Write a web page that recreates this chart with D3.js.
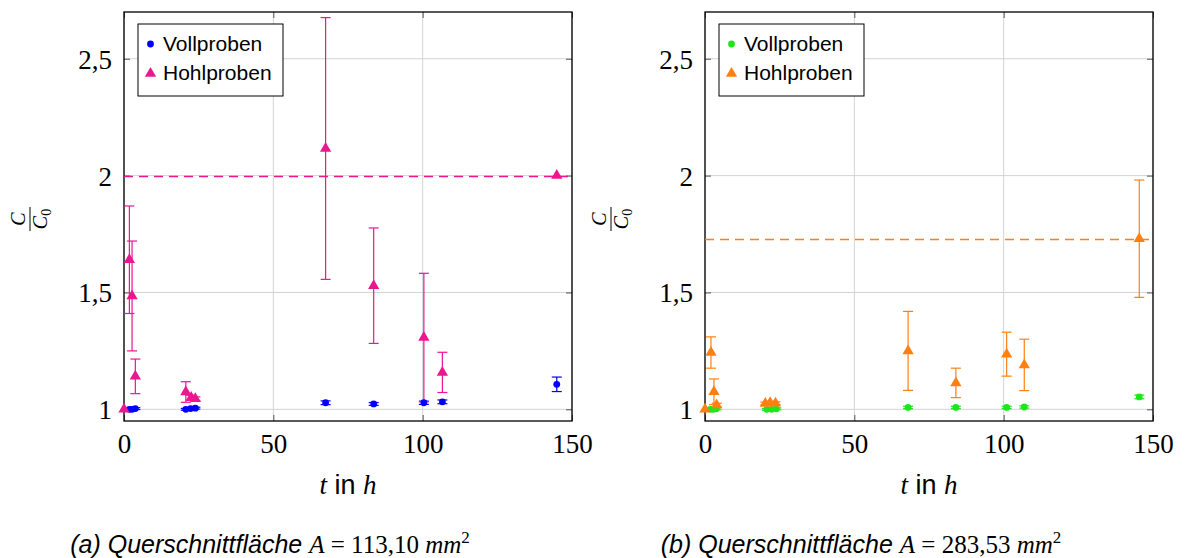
<!DOCTYPE html>
<html>
<head>
<meta charset="utf-8">
<script src="https://cdn.jsdelivr.net/npm/d3@7"></script>
<style>
  body { margin: 0; background: #fff; }
  .tick-label { font-family: "Liberation Serif", serif; font-size: 27px; }
  .legend-text { font-family: "Liberation Sans", Arial, sans-serif; font-size: 21px; }
</style>
</head>
<body>
<script>
// tick labels
const xTicks = [0, 50, 100, 150];
const yTicks = [1, 1.5, 2, 2.5];
const seriesNames = ["Vollproben", "Hohlproben"];

// (a) A = 113,10 mm²
const tVollA = [1.8, 2.7, 3.8, 20.7, 22.3, 23.9, 67.5, 83.6, 100.4, 106.6, 144.9];
const cVollA = [1.0, 1.0, 1.003, 1.0, 1.003, 1.005, 1.028, 1.023, 1.028, 1.032, 1.107];
const eVollA = [0.004, 0.004, 0.004, 0.004, 0.004, 0.004, 0.008, 0.006, 0.007, 0.008, 0.031];
const tHohlA = [0, 1.8, 2.7, 3.8, 20.7, 22.5, 23.9, 67.5, 83.6, 100.4, 106.6, 144.9];
const cHohlA = [1.0, 1.64, 1.485, 1.141, 1.074, 1.05, 1.045, 2.116, 1.529, 1.307, 1.158, 2.0];
const eHohlA = [0, 0.23, 0.235, 0.074, 0.044, 0.01, 0.008, 0.56, 0.247, 0.275, 0.086, 0];
const meanA = 2.0;

// (b) A = 283,53 mm²
const tVollB = [1.8, 2.8, 3.8, 20.7, 22.3, 23.9, 68, 84, 101, 106.9, 145.4];
const cVollB = [1.0, 1.0, 1.002, 1.0, 1.0, 1.002, 1.008, 1.008, 1.008, 1.01, 1.053];
const eVollB = [0.004, 0.004, 0.004, 0.004, 0.004, 0.004, 0.005, 0.005, 0.005, 0.005, 0.008];
const tHohlB = [0, 2.0, 3.0, 3.9, 20.2, 21.8, 23.6, 68, 84, 101, 106.9, 145.4];
const cHohlB = [1.0, 1.243, 1.075, 1.018, 1.025, 1.028, 1.026, 1.25, 1.113, 1.236, 1.19, 1.73];
const eHohlB = [0, 0.067, 0.055, 0.008, 0.006, 0.006, 0.006, 0.169, 0.063, 0.094, 0.11, 0.251];
const meanB = 1.729;

const W = 1189, H = 558;
const svg = d3.select("body").append("svg")
  .attr("width", W)
  .attr("height", H);

function zip(t, c, e) {
  return t.map((d, i) => ({ t: d, c: c[i], e: e[i] }));
}

function drawPanel(opt) {
  let x = d3.scaleLinear().domain([0, 150]).range([opt.left, opt.left + 448]);
  let y = d3.scaleLinear().domain([0.95, 2.7]).range([421, 12]);
  let g = svg.append("g");

  // grid
  g.selectAll(".gx").data(xTicks).enter().append("line")
    .attr("x1", d => x(d)).attr("x2", d => x(d))
    .attr("y1", y.range()[0]).attr("y2", y.range()[1])
    .style("stroke", "#d3d3d3").attr("stroke-width", 1);
  g.selectAll(".gy").data(yTicks).enter().append("line")
    .attr("x1", x.range()[0]).attr("x2", x.range()[1])
    .attr("y1", d => y(d)).attr("y2", d => y(d))
    .style("stroke", "#d3d3d3").attr("stroke-width", 1);

  // axes: inner ticks on all four sides, labels left/bottom
  let fmt = d => String(d).replace(".", ",");
  let ax = [
    [d3.axisBottom(x).tickValues(xTicks).tickSize(-6).tickFormat(fmt), 421, 0],
    [d3.axisTop(x).tickValues(xTicks).tickSize(-6).tickFormat(""), 12, 0],
    [d3.axisLeft(y).tickValues(yTicks).tickSize(-6).tickFormat(fmt), 0, opt.left],
    [d3.axisRight(y).tickValues(yTicks).tickSize(-6).tickFormat(""), 0, opt.left + 448]
  ];
  ax.forEach(a => {
    let ag = g.append("g")
      .attr("transform", "translate(" + a[2] + "," + a[1] + ")")
      .call(a[0]);
    ag.select(".domain").remove();
    ag.selectAll(".tick line").style("stroke", "#555");
    ag.selectAll(".tick text").attr("class", "tick-label").style("fill", "#000");
  });

  // nudge tick labels
  g.selectAll("text.tick-label").each(function(d) {
    let el = d3.select(this);
    if (el.attr("x") !== null && +el.attr("x") < 0) el.attr("x", -12).attr("dy", "0.35em");
    else el.attr("y", 13).attr("dy", "0.7em");
  });

  // frame
  g.append("rect")
    .attr("x", x.range()[0]).attr("y", y.range()[1])
    .attr("width", 448).attr("height", 409)
    .style("fill", "none").style("stroke", "#000").attr("stroke-width", 1.3);

  // dashed mean line (on top of the grid, snapped to the pixel grid)
  let ym = Math.round(y(opt.mean)) + 0.5;
  g.append("line")
    .attr("x1", x(0)).attr("x2", x(150))
    .attr("y1", ym).attr("y2", ym)
    .style("stroke", opt.colHohl).attr("stroke-width", 1.3)
    .attr("stroke-dasharray", "9,6");

  // error bars
  [[opt.voll, opt.colVoll], [opt.hohl, opt.colHohl]].forEach(s => {
    let data = s[0].filter(d => d.e > 0);
    let eb = g.append("g").style("stroke", s[1]).attr("stroke-width", 1.2);
    eb.selectAll(".v").data(data).enter().append("line")
      .attr("x1", d => x(d.t)).attr("x2", d => x(d.t))
      .attr("y1", d => y(d.c - d.e)).attr("y2", d => y(d.c + d.e));
    eb.selectAll(".top").data(data).enter().append("line")
      .attr("x1", d => x(d.t) - 5).attr("x2", d => x(d.t) + 5)
      .attr("y1", d => y(d.c + d.e)).attr("y2", d => y(d.c + d.e));
    eb.selectAll(".bot").data(data).enter().append("line")
      .attr("x1", d => x(d.t) - 5).attr("x2", d => x(d.t) + 5)
      .attr("y1", d => y(d.c - d.e)).attr("y2", d => y(d.c - d.e));
  });

  // markers
  g.selectAll(".dot").data(opt.voll).enter().append("circle")
    .attr("cx", d => x(d.t)).attr("cy", d => y(d.c))
    .attr("r", 3.4).style("fill", opt.colVoll);
  let tri = d3.symbol().type(d3.symbolTriangle).size(55);
  g.selectAll(".tri").data(opt.hohl).enter().append("path")
    .attr("d", tri)
    .attr("transform", d => "translate(" + x(d.t) + "," + y(d.c) + ")")
    .style("fill", opt.colHohl);

  // legend
  let lx = opt.left + 14, ly = 24;
  g.append("rect")
    .attr("x", lx).attr("y", ly).attr("width", 145).attr("height", 72)
    .style("fill", "#fff").style("stroke", "#000").attr("stroke-width", 1);
  g.append("circle").attr("cx", lx + 12.5).attr("cy", ly + 20).attr("r", 3.4).style("fill", opt.colVoll);
  g.append("path").attr("d", tri)
    .attr("transform", "translate(" + (lx + 12.5) + "," + (ly + 49.5) + ")")
    .style("fill", opt.colHohl);
  seriesNames.forEach((n, i) => {
    g.append("text").attr("class", "legend-text")
      .attr("x", lx + 25).attr("y", ly + 20 + i * 29).attr("dy", "0.35em")
      .text(n);
  });

  // x label
  let xl = g.append("text")
    .attr("x", (x.range()[0] + x.range()[1]) / 2).attr("y", 494)
    .attr("text-anchor", "middle")
    .style("font-size", "27px");
  xl.append("tspan").style("font-family", "Liberation Serif, serif").style("font-style", "italic").text("t");
  xl.append("tspan").style("font-family", "Liberation Sans, sans-serif").text(" in ");
  xl.append("tspan").style("font-family", "Liberation Serif, serif").style("font-style", "italic").text("h");

  // y label (fraction, rotated)
  let yl = g.append("g")
    .attr("transform", "translate(" + (opt.left - 94) + ",219) rotate(-90)")
    .style("font-family", "Liberation Serif, serif").style("font-style", "italic")
    .style("font-size", "20px");
  yl.append("text").attr("x", 0).attr("y", -5).attr("text-anchor", "middle").text("C");
  yl.append("line").attr("x1", -12).attr("x2", 12).attr("y1", 0).attr("y2", 0)
    .style("stroke", "#000").attr("stroke-width", 1);
  let den = yl.append("text").attr("x", 0).attr("y", 17).attr("text-anchor", "middle");
  den.append("tspan").text("C");
  den.append("tspan").attr("dy", 4).style("font-size", "14px").style("font-style", "normal").text("0");

  // caption
  let cap = g.append("text")
    .attr("x", opt.capX).attr("y", 553)
    .attr("text-anchor", "middle")
    .style("font-size", "25px");
  cap.append("tspan").style("font-family", "Liberation Sans, sans-serif").style("font-style", "italic")
    .text(opt.capLabel + " Querschnittfläche ");
  cap.append("tspan").style("font-family", "Liberation Serif, serif").style("font-style", "italic").text("A");
  cap.append("tspan").style("font-family", "Liberation Serif, serif").text(" = " + opt.area + " ");
  cap.append("tspan").style("font-family", "Liberation Serif, serif").style("font-style", "italic").text("mm");
  cap.append("tspan").attr("dy", -10).style("font-family", "Liberation Serif, serif").style("font-size", "17px").text("2");
}

drawPanel({
  left: 124,
  voll: zip(tVollA, cVollA, eVollA),
  hohl: zip(tHohlA, cHohlA, eHohlA),
  mean: meanA,
  colVoll: "#0000ff",
  colHohl: "#ec1690",
  capX: 270,
  capLabel: "(a)",
  area: "113,10"
});

drawPanel({
  left: 705,
  voll: zip(tVollB, cVollB, eVollB),
  hohl: zip(tHohlB, cHohlB, eHohlB),
  mean: meanB,
  colVoll: "#1ee61e",
  colHohl: "#ff8012",
  capX: 861,
  capLabel: "(b)",
  area: "283,53"
});
</script>
</body>
</html>
